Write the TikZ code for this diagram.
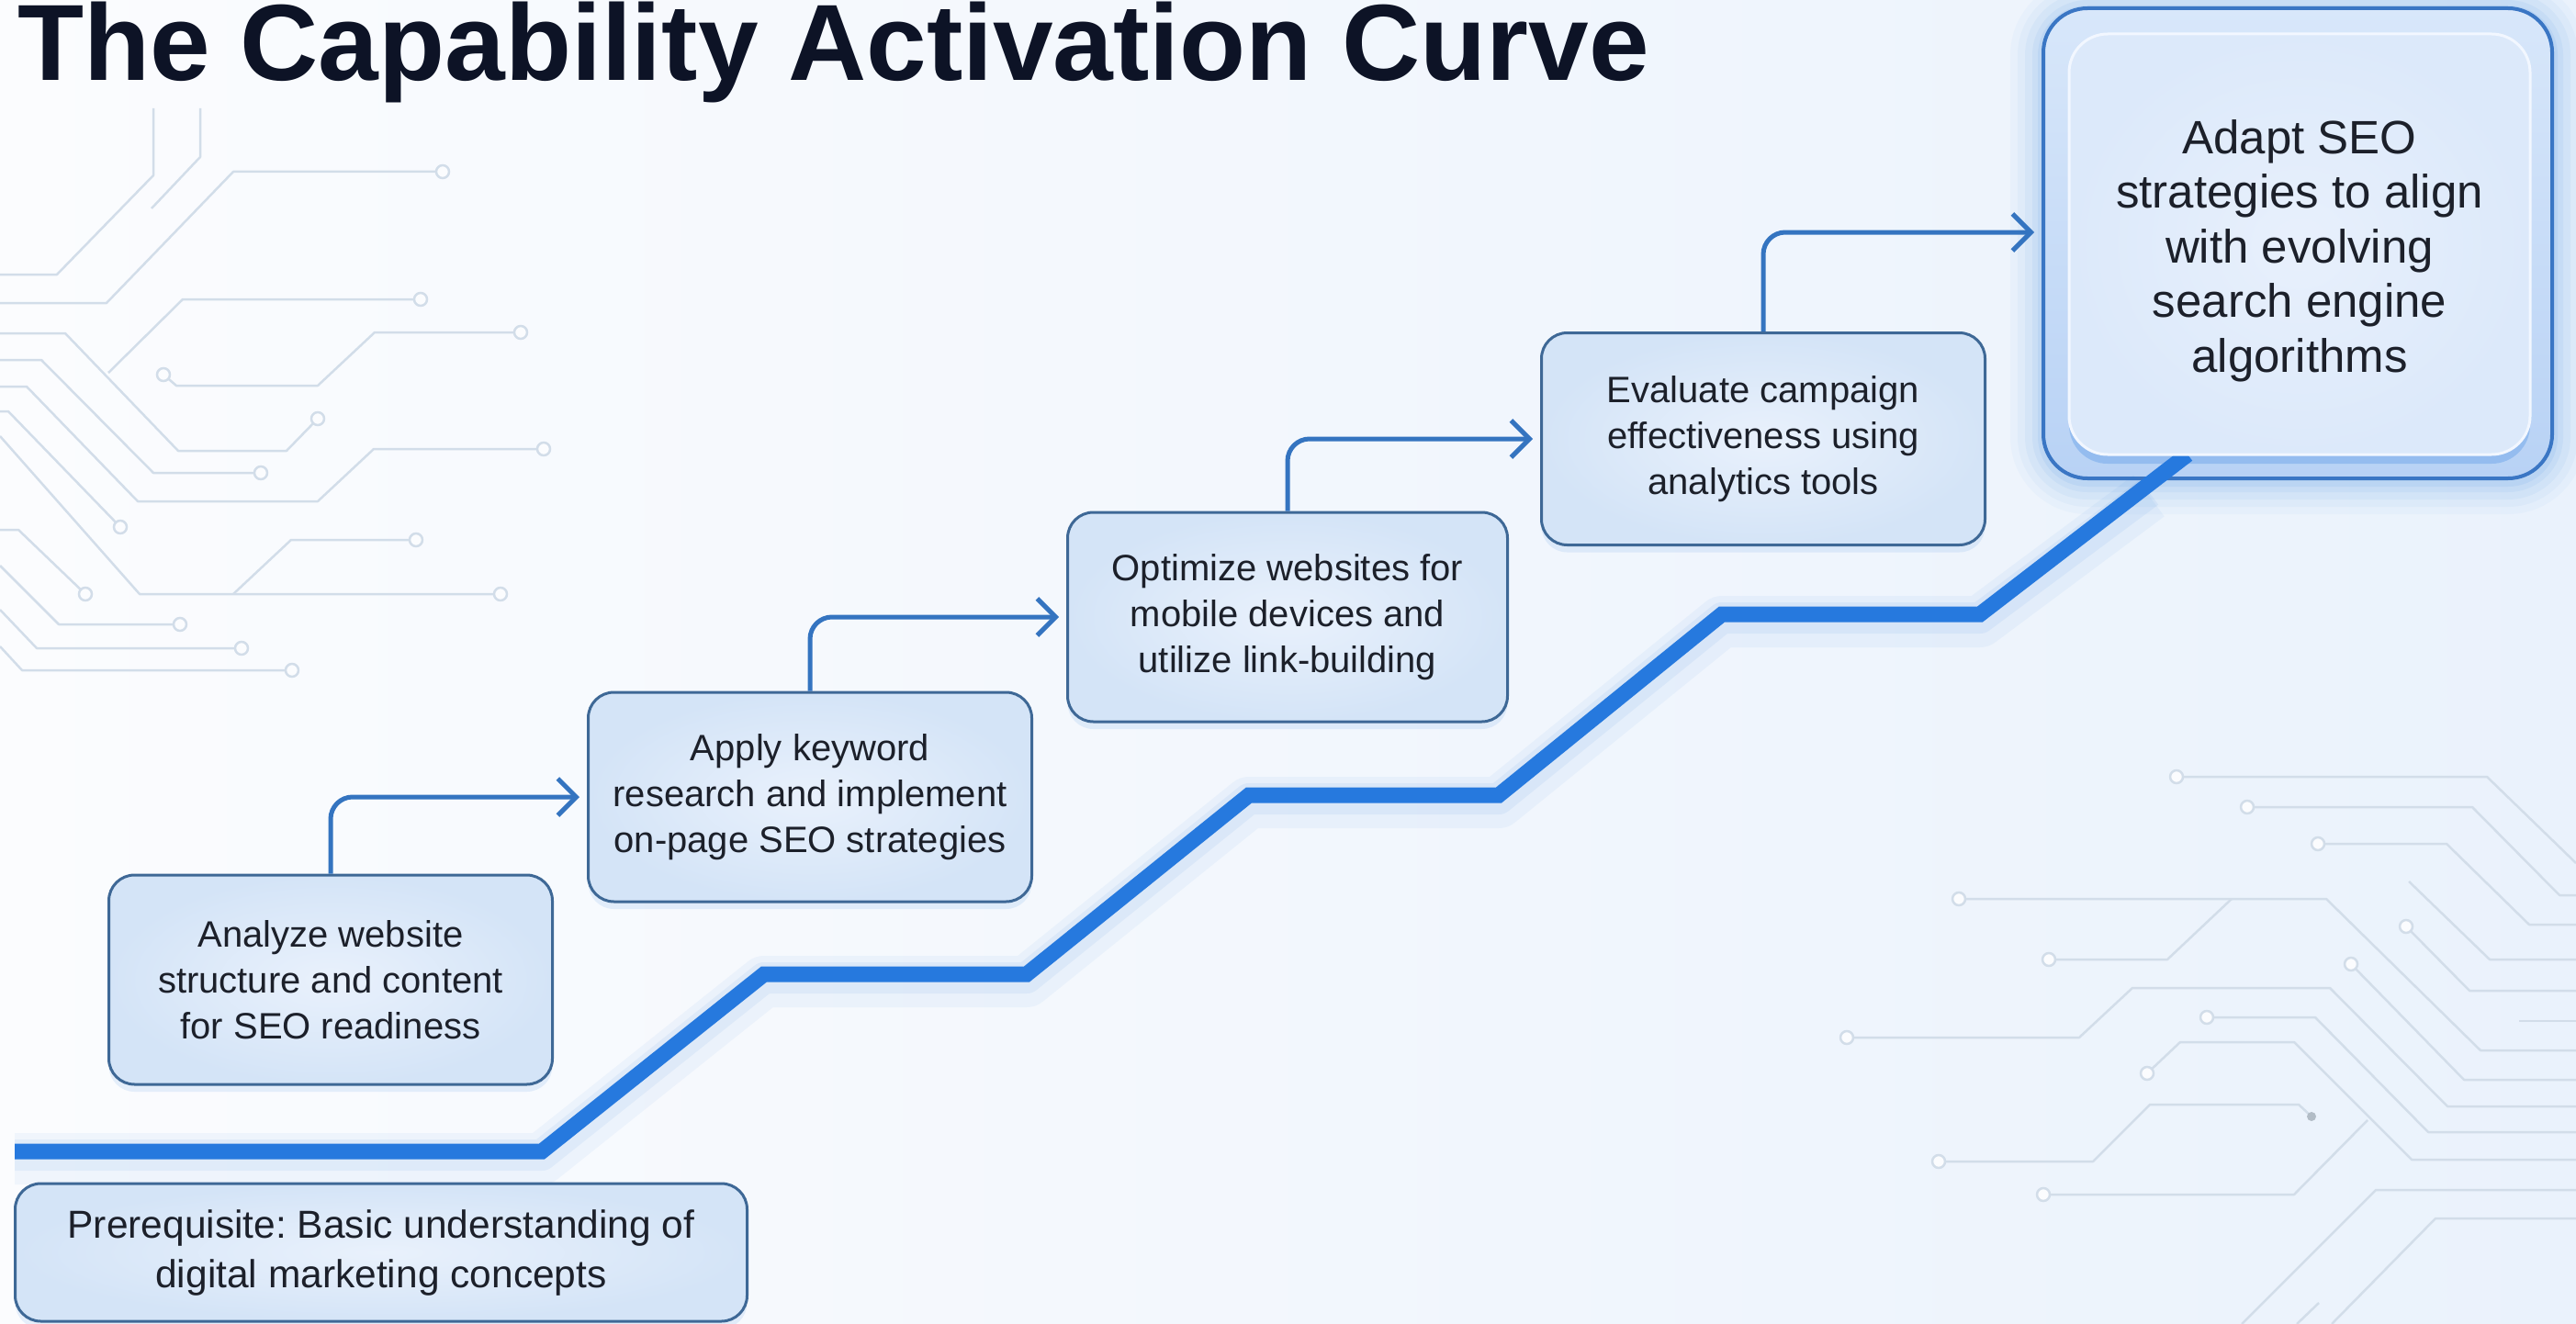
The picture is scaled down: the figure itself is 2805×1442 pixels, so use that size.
\documentclass[tikz,border=0pt]{standalone}
\usepackage{fontspec}
\setmainfont{Liberation Sans}
\usetikzlibrary{arrows.meta,shadows,calc}
\frenchspacing
\definecolor{bgL}{RGB}{251,252,254}
\definecolor{bgR}{RGB}{234,242,252}
\definecolor{tracec}{RGB}{210,221,233}
\definecolor{boxborder}{RGB}{62,104,150}
\definecolor{boxin}{RGB}{233,241,252}
\definecolor{boxout}{RGB}{212,228,247}
\definecolor{connc}{RGB}{52,116,192}
\definecolor{stairc}{RGB}{38,121,222}
\definecolor{txtc}{RGB}{28,32,42}
\definecolor{titlec}{RGB}{13,19,38}
\definecolor{outerb}{RGB}{58,118,196}
\tikzset{
  trace/.style={draw=tracec, line width=2.5pt, line join=round},
  tcirc/.style={draw=tracec, line width=2.5pt, fill=bgL},
  stepbox/.style={rectangle, rounded corners=28pt, draw=boxborder, line width=3pt,
    inner color=boxin, outer color=boxout, minimum width=483pt, minimum height=228pt,
    align=center, text=txtc, font=\fontsize{40}{50}\selectfont, inner sep=0pt,
    drop shadow={shadow xshift=0pt, shadow yshift=-8pt, fill=stairc, opacity=0.10}},
  prebox/.style={stepbox, minimum width=797pt, minimum height=150pt, font=\fontsize{42.5}{54}\selectfont},
  outerbox/.style={rectangle, rounded corners=48pt, draw=outerb, line width=4pt,
    top color={rgb,255:red,216;green,231;blue,250}, bottom color={rgb,255:red,184;green,210;blue,245},
    minimum width=554pt, minimum height=512pt, inner sep=0pt},
  innerbox/.style={rectangle, rounded corners=42pt, draw={rgb,255:red,242;green,247;blue,255}, line width=3pt,
    inner color={rgb,255:red,232;green,240;blue,252}, outer color={rgb,255:red,220;green,233;blue,250},
    minimum width=502pt, minimum height=458pt, align=center, text=txtc,
    font=\fontsize{51}{59.5}\selectfont, inner sep=0pt,
    drop shadow={shadow xshift=0pt, shadow yshift=-10pt, fill=stairc, opacity=0.25}},
  connector/.style={draw=connc, line width=5pt, rounded corners=24pt,
    -{Straight Barb[length=20pt, width=40pt, line width=5pt]}, shorten >=8pt},
  stairline/.style={draw=stairc, line width=17pt, line join=miter},
}
\begin{document}
\begin{tikzpicture}[x=1pt, y=-1pt]
\useasboundingbox (0,0) rectangle (2805,1442);
\shade[left color=bgL, right color=bgR] (0,0) rectangle (2805,1442);

% decorative circuit traces, upper left
\draw[trace] (167,118) -- (167,191) -- (62,299) -- (0,299);
\draw[trace] (218,118) -- (218,171) -- (165,227);
\draw[trace] (0,330) -- (116,330) -- (254,187) -- (482,187);
\draw[trace] (0,363) -- (71,363) -- (194,491) -- (312,491) -- (346,456);
\draw[trace] (118,406) -- (199,326) -- (458,326);
\draw[trace] (178,408) -- (192,420) -- (346,420) -- (408,362) -- (567,362);
\draw[trace] (0,392) -- (45,392) -- (167,515) -- (284,515);
\draw[trace] (0,421) -- (29,421) -- (150,546) -- (346,546) -- (407,489) -- (592,489);
\draw[trace] (0,448) -- (9,448) -- (131,574);
\draw[trace] (0,475) -- (152,647) -- (545,647);
\draw[trace] (254,647) -- (317,588) -- (453,588);
\draw[trace] (0,577) -- (20,577) -- (93,647);
\draw[trace] (0,616) -- (64,680) -- (196,680);
\draw[trace] (0,664) -- (40,706) -- (263,706);
\draw[trace] (0,704) -- (24,730) -- (318,730);
\foreach \x/\y in {482/187,346/456,458/326,178/408,567/362,284/515,592/489,131/574,545/647,453/588,93/647,196/680,263/706,318/730}
  \draw[tcirc] (\x,\y) circle (7pt);

% decorative circuit traces, lower right
\draw[trace] (2370,846) -- (2708,846) -- (2805,940);
\draw[trace] (2447,879) -- (2692,879) -- (2787,975) -- (2805,975);
\draw[trace] (2524,919) -- (2664,919) -- (2754,1007) -- (2805,1007);
\draw[trace] (2623,960) -- (2711,1045) -- (2805,1045);
\draw[trace] (2620,1009) -- (2689,1079) -- (2805,1079);
\draw[trace] (2133,979) -- (2533,979) -- (2701,1144) -- (2805,1144);
\draw[trace] (2430,979) -- (2360,1045) -- (2231,1045);
\draw[trace] (2743,1112) -- (2805,1112);
\draw[trace] (2560,1050) -- (2683,1176) -- (2805,1176);
\draw[trace] (2011,1130) -- (2264,1130) -- (2322,1076) -- (2537,1076) -- (2665,1205) -- (2805,1205);
\draw[trace] (2403,1108) -- (2521,1108) -- (2644,1233) -- (2805,1233);
\draw[trace] (2338,1169) -- (2374,1135) -- (2498,1135) -- (2626,1263) -- (2805,1263);
\draw[trace] (2111,1265) -- (2279,1265) -- (2341,1203) -- (2503,1203) -- (2517,1216);
\draw[trace] (2225,1301) -- (2498,1301) -- (2578,1220);
\draw[trace] (2805,1296) -- (2587,1296) -- (2441,1442);
\draw[trace] (2805,1327) -- (2652,1327) -- (2539,1442);
\draw[trace] (2525,1419) -- (2501,1442);
\foreach \x/\y in {2370/846,2447/879,2524/919,2620/1009,2133/979,2231/1045,2560/1050,2011/1130,2403/1108,2338/1169,2111/1265,2225/1301}
  \draw[tcirc] (\x,\y) circle (7pt);
\fill[tracec!85!black] (2517,1216) circle (5pt);

% glow of final box
\foreach \g/\o in {36/0.03,28/0.04,20/0.05,12/0.06,6/0.08}{
  \pgfmathsetmacro{\gw}{554+2*\g}
  \pgfmathsetmacro{\gh}{512+2*\g}
  \pgfmathsetmacro{\gr}{48+\g}
  \node[fill=stairc, fill opacity=\o, rectangle, rounded corners=\gr pt,
        minimum width=\gw pt, minimum height=\gh pt, inner sep=0pt] at (2502,268) {};
}
\node[outerbox] (b5o) at (2502,265) {};

% staircase
\draw[stairc, opacity=0.05, line width=56pt, line join=round]
  (16,1262) -- (590,1262) -- (832,1069) -- (1118,1069) -- (1360,874) -- (1632,874) -- (1875,677) -- (2156,677) -- (2340,540);
\draw[stairc, opacity=0.07, line width=34pt, line join=round]
  (16,1258) -- (590,1258) -- (832,1065) -- (1118,1065) -- (1360,870) -- (1632,870) -- (1875,673) -- (2156,673) -- (2340,536);
\draw[stairline]
  (16,1254) -- (590,1254) -- (832,1061) -- (1118,1061) -- (1360,866) -- (1632,866) -- (1875,669) -- (2156,669) -- (2382,495);

% final box inner
\node[innerbox] (b5) at (2504,266) {};
\node[align=center, text=txtc, font=\fontsize{51}{59.5}\selectfont, inner sep=0pt] (b5t) at (2504,273) {Adapt SEO\\strategies to align\\with evolving\\search engine\\algorithms};

% steps
\node[stepbox] (b1) at (360,1067) {Analyze website\\structure and content\\for SEO readiness};
\node[stepbox] (b2) at (882,868) {Apply keyword\\research and implement\\on-page SEO strategies};
\node[stepbox, minimum width=479pt] (b3) at (1402,672) {Optimize websites for\\mobile devices and\\utilize link-building};
\node[stepbox, minimum height=231pt] (b4) at (1920,478) {Evaluate campaign\\effectiveness using\\analytics tools};
\node[prebox] (pre) at (415,1364) {Prerequisite: Basic understanding of\\digital marketing concepts};

% connectors
\draw[connector] (b1.north) |- (b2.west);
\draw[connector] (b2.north) |- (b3.west);
\draw[connector] (b3.north) |- (b4.west);
\draw[connector] (b4.north) |- ([yshift=12pt]b5o.west);

% title
\node[anchor=base west, text=titlec, inner sep=0pt, font=\fontsize{118}{130}\selectfont\bfseries] (title) at (19,88) {The Capability Activation Curve};
\end{tikzpicture}
\end{document}
